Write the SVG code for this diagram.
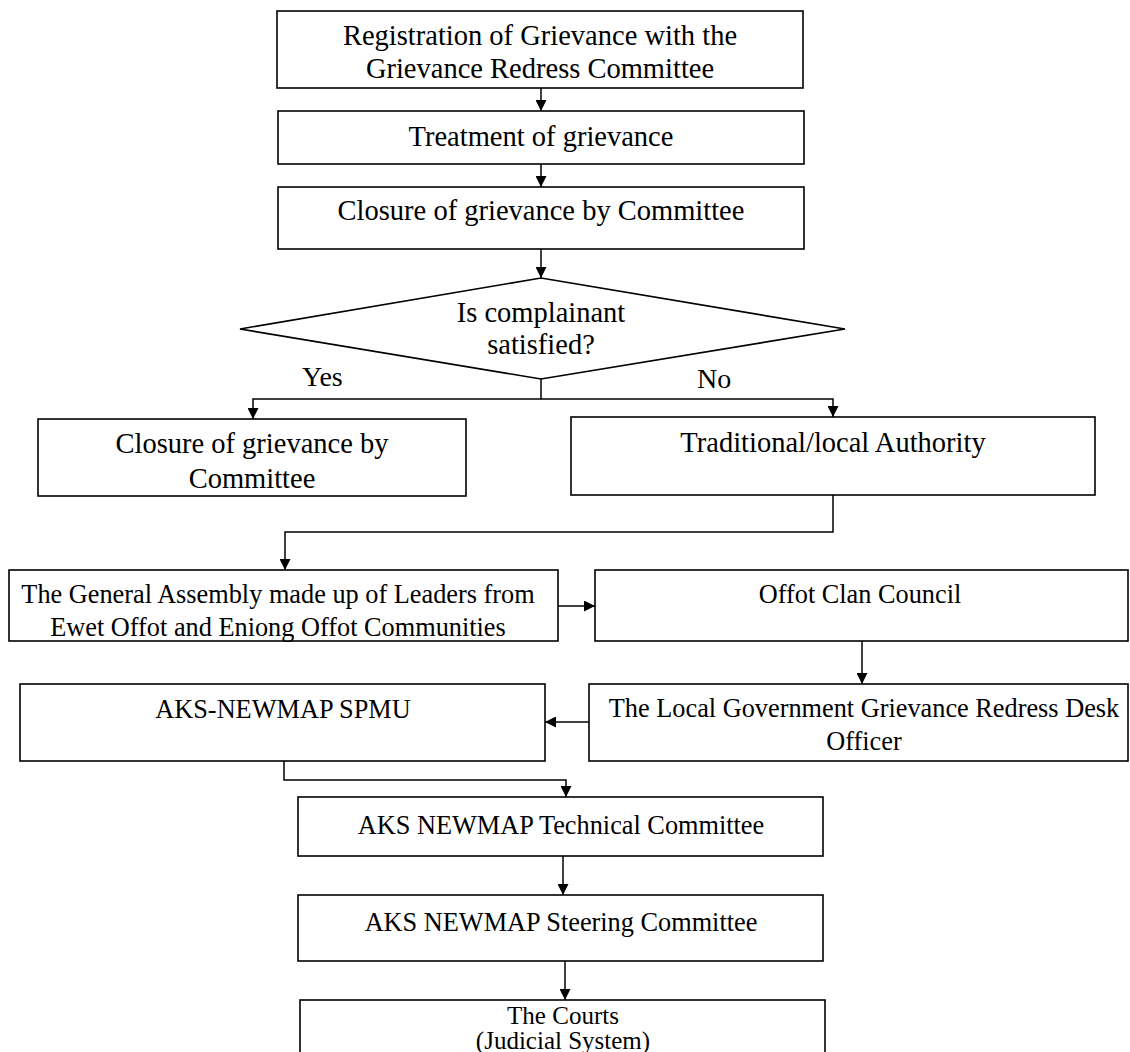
<svg xmlns="http://www.w3.org/2000/svg" width="1130" height="1052" viewBox="0 0 1130 1052">
<style>
.box{fill:#fff;stroke:#000;stroke-width:1.6}
.t{font-family:"Liberation Serif","Times New Roman",serif;font-size:28.5px;fill:#000;text-anchor:middle}
.s{font-family:"Liberation Serif","Times New Roman",serif;font-size:26.3px;fill:#000;text-anchor:middle}
.lbl{font-family:"Liberation Serif","Times New Roman",serif;font-size:28px;fill:#000}
.c{fill:none;stroke:#000;stroke-width:1.5}
</style>
<defs>
<marker id="ah" viewBox="0 0 10 10" refX="10" refY="5" markerWidth="11" markerHeight="11" markerUnits="userSpaceOnUse" orient="auto">
<path d="M0,0 L10,5 L0,10 z" fill="#000"/>
</marker>
</defs>
<rect width="1130" height="1052" fill="#fff"/>
<g id="connectors">
<path class="c" d="M541,88 V111" marker-end="url(#ah)"/>
<path class="c" d="M541,164 V187" marker-end="url(#ah)"/>
<path class="c" d="M541,249 V278" marker-end="url(#ah)"/>
<path class="c" d="M541,379 V399 H253 V419" marker-end="url(#ah)"/>
<path class="c" d="M541,399 H833 V417" marker-end="url(#ah)"/>
<path class="c" d="M833,495 V532 H285 V570" marker-end="url(#ah)"/>
<path class="c" d="M558,606 H595" marker-end="url(#ah)"/>
<path class="c" d="M862,641 V684" marker-end="url(#ah)"/>
<path class="c" d="M589,722 H545" marker-end="url(#ah)"/>
<path class="c" d="M284,761 V780 H566 V797" marker-end="url(#ah)"/>
<path class="c" d="M563,856 V895" marker-end="url(#ah)"/>
<path class="c" d="M565,961 V1000" marker-end="url(#ah)"/>
</g>
<g id="n1"><rect class="box" x="277" y="11" width="526" height="77"/>
<text class="t" x="540" y="45">Registration of Grievance with the</text>
<text class="t" x="540" y="78">Grievance Redress Committee</text></g>
<g id="n2"><rect class="box" x="278" y="111" width="526" height="53"/>
<text class="t" x="541" y="146">Treatment of grievance</text></g>
<g id="n3"><rect class="box" x="278" y="187" width="526" height="62"/>
<text class="t" x="541" y="220">Closure of grievance by Committee</text></g>
<g id="decision"><polygon class="box" points="541,278 845,329 541,379 240,329"/>
<text class="t" x="541" y="322">Is complainant</text>
<text class="t" x="541" y="354">satisfied?</text></g>
<g id="labels">
<text class="lbl" x="302" y="386">Yes</text>
<text class="lbl" x="697" y="388">No</text></g>
<g id="n4"><rect class="box" x="38" y="419" width="428" height="77"/>
<text class="t" x="252" y="453">Closure of grievance by</text>
<text class="t" x="252" y="488">Committee</text></g>
<g id="n5"><rect class="box" x="571" y="417" width="524" height="78"/>
<text class="t" x="833" y="452">Traditional/local Authority</text></g>
<g id="n6"><rect class="box" x="9" y="570" width="549" height="71"/>
<text class="s" x="278" y="603">The General Assembly made up of Leaders from</text>
<text class="s" x="278" y="636">Ewet Offot and Eniong Offot Communities</text></g>
<g id="n7"><rect class="box" x="595" y="570" width="533" height="71"/>
<text class="s" x="860" y="603">Offot Clan Council</text></g>
<g id="n8"><rect class="box" x="589" y="684" width="539" height="77"/>
<text class="s" x="864" y="717">The Local Government Grievance Redress Desk</text>
<text class="s" x="864" y="750">Officer</text></g>
<g id="n9"><rect class="box" x="20" y="684" width="525" height="77"/>
<text class="s" x="283" y="718">AKS-NEWMAP SPMU</text></g>
<g id="n10"><rect class="box" x="298" y="797" width="525" height="59"/>
<text class="s" x="561" y="834">AKS NEWMAP Technical Committee</text></g>
<g id="n11"><rect class="box" x="298" y="895" width="525" height="66"/>
<text class="s" x="561" y="931">AKS NEWMAP Steering Committee</text></g>
<g id="n12"><rect class="box" x="300" y="1000" width="525" height="60"/>
<text class="s" x="563" y="1024" style="font-size:25px">The Courts</text>
<text class="s" x="563" y="1049" style="font-size:25px">(Judicial System)</text></g>
</svg>
